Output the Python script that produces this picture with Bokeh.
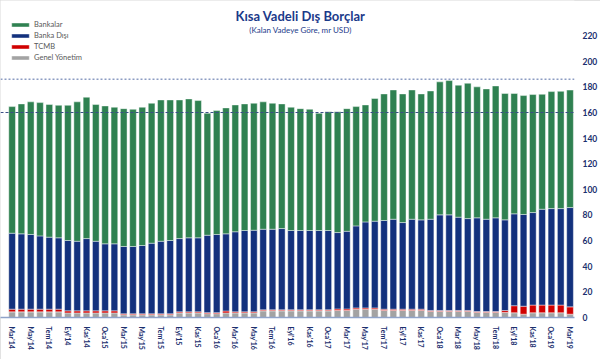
from bokeh.plotting import figure
from bokeh.models import ColumnDataSource, FixedTicker, Range1d, Span, Legend, LegendItem, Label
from bokeh.embed import file_html
from bokeh.resources import INLINE

months = ["Mar'14", "Nis'14", "May'14", "Haz'14", "Tem'14", "Ağu'14", "Eyl'14", "Eki'14", "Kas'14", "Ara'14",
          "Oca'15", "Şub'15", "Mar'15", "Nis'15", "May'15", "Haz'15", "Tem'15", "Ağu'15", "Eyl'15", "Eki'15", "Kas'15", "Ara'15",
          "Oca'16", "Şub'16", "Mar'16", "Nis'16", "May'16", "Haz'16", "Tem'16", "Ağu'16", "Eyl'16", "Eki'16", "Kas'16", "Ara'16",
          "Oca'17", "Şub'17", "Mar'17", "Nis'17", "May'17", "Haz'17", "Tem'17", "Ağu'17", "Eyl'17", "Eki'17", "Kas'17", "Ara'17",
          "Oca'18", "Şub'18", "Mar'18", "Nis'18", "May'18", "Haz'18", "Tem'18", "Ağu'18", "Eyl'18", "Eki'18", "Kas'18", "Ara'18",
          "Oca'19", "Şub'19", "Mar'19"]

genel_yonetim = [4.4, 4.4, 4.4, 4.4, 4.4, 4.4, 3.6, 3.6, 3.6, 3.6, 3.6, 3.6, 2.1, 2.1, 2.1, 2.1, 2.1, 2.1, 3.6, 3.6, 3.6,
                 3.0, 3.0, 3.6, 3.6, 3.6, 3.6, 5.2, 5.2, 5.2, 5.2, 5.2, 5.2, 5.2, 5.2, 5.5, 5.5, 6.5, 6.5, 6.5, 5.5,
                 5.5, 5.5, 5.5, 5.5, 4.7, 4.7, 4.7, 4.7, 4.7, 3.9, 3.9, 3.9, 3.9, 3.7, 2.6, 3.7, 3.7, 3.7, 3.7, 2.6]
tcmb = [2.1, 2.1, 2.1, 2.1, 2.1, 2.1, 1.6, 1.6, 1.6, 1.6, 1.6, 1.6, 0.8, 0.8, 0.8, 0.8, 0.8, 0.8, 0.8, 0.8, 0.8,
        0.8, 0.8, 1.5, 0.8, 0.8, 0.8, 0.8, 0.8, 0.8, 0.8, 0.8, 0.8, 0.8, 0.8, 1.2, 1.2, 1.0, 1.0, 1.0, 1.0,
        1.0, 1.0, 1.0, 1.0, 0.8, 0.8, 0.8, 0.8, 0.8, 0.8, 0.8, 0.8, 1.5, 5.5, 6.2, 6.0, 6.0, 6.0, 6.0, 5.7]
banka_disi = [59.3, 58.8, 58.3, 57.2, 56.2, 55.7, 54.9, 54.3, 56.4, 54.3, 52.3, 52.3, 52.5, 52.5, 53.3, 55.1, 56.6, 57.2, 57.2, 57.8, 57.8,
              60.4, 61.0, 60.2, 62.5, 63.5, 63.7, 62.9, 62.9, 63.4, 61.9, 61.9, 61.9, 61.9, 61.9, 59.6, 60.6, 64.0, 67.1, 67.7, 69.2,
              70.2, 67.6, 70.2, 69.7, 71.2, 74.6, 74.6, 72.8, 71.7, 73.1, 72.0, 73.1, 70.8, 71.7, 71.6, 72.2, 74.8, 75.3, 75.3, 77.5]
bankalar = [98.8, 101.4, 103.5, 104.0, 103.5, 103.4, 105.5, 108.8, 110.3, 106.7, 107.6, 106.6, 107.6, 107.1, 107.9, 109.2, 110.3, 109.7, 108.2, 108.4, 107.1,
            95.2, 96.7, 98.3, 99.0, 98.8, 99.1, 99.4, 98.3, 97.3, 96.2, 95.1, 94.6, 91.5, 92.6, 94.2, 95.7, 93.1, 91.3, 95.7, 98.8,
            100.9, 100.4, 100.9, 98.3, 100.1, 103.8, 104.8, 103.0, 105.6, 102.2, 101.7, 102.9, 98.6, 93.9, 92.8, 92.1, 89.7, 91.3, 91.5, 91.7]

series_keys = ["genel_yonetim", "tcmb", "banka_disi", "bankalar"]
series_names = ["Genel Yönetim", "TCMB", "Banka Dışı", "Bankalar"]
series_colors = ["#A3A3A3", "#D00000", "#13317D", "#2F8151"]

ref_upper = 186
ref_lower = 160
y_ticks = list(range(0, 221, 20))

src = ColumnDataSource(dict(x=list(range(len(months))), genel_yonetim=genel_yonetim, tcmb=tcmb,
                            banka_disi=banka_disi, bankalar=bankalar))

p = figure(width=600, height=359, output_backend="svg", toolbar_location=None,
           y_axis_location="right", x_range=Range1d(-1.25, 60.48), y_range=Range1d(0, 247.4),
           min_border_left=0, min_border_top=0, min_border_bottom=42, min_border_right=24)
p.styles = {"outline": "1px solid #D9D9D9", "outline-offset": "-1px"}

renderers = p.vbar_stack(series_keys, x="x", width=0.72, color=series_colors, source=src,
                         line_color="white", line_alpha=0.55, line_width=0.8)

p.add_layout(Span(location=ref_upper, dimension="width", line_color="#8C9CC2", line_dash="2 2", line_width=1.5))
p.add_layout(Span(location=ref_lower, dimension="width", line_color="#3A4F86", line_dash="3 2", line_width=1.2))

legend = Legend(items=[LegendItem(label=series_names[i], renderers=[renderers[i]]) for i in [3, 2, 1, 0]],
                location=(9, 255), glyph_width=22, glyph_height=5, label_height=9, spacing=2,
                label_text_font_size="7.5px", label_text_color="#595959", label_text_font="Lato",
                background_fill_alpha=0, border_line_color=None, padding=0, margin=0, label_standoff=3)
p.add_layout(legend)

p.add_layout(Label(x=300, y=302, x_units="screen", y_units="screen", text="Kısa Vadeli Dış Borçlar",
                   text_align="center", text_baseline="middle", text_font="Lato", text_font_style="bold",
                   text_font_size="13px", text_color="#1B3A8A"))
p.add_layout(Label(x=300, y=288, x_units="screen", y_units="screen", text="(Kalan Vadeye Göre, mr USD)",
                   text_align="center", text_baseline="middle", text_font="Lato",
                   text_font_size="8px", text_color="#1B3A8A"))

xa = p.xaxis[0]
xa.ticker = FixedTicker(ticks=list(range(0, len(months), 2)))
xa.major_label_overrides = {i: months[i] for i in range(0, len(months), 2)}
xa.major_label_orientation = "vertical"
xa.major_label_text_font = "Lato"
xa.major_label_text_font_style = "bold"
xa.major_label_text_font_size = "7px"
xa.major_label_text_color = "#1B2F6E"
xa.major_tick_line_color = None
xa.minor_tick_line_color = None
xa.axis_line_color = "#8FA3C9"
xa.axis_line_width = 1.5
xa.major_label_standoff = 3

ya = p.yaxis[0]
ya.ticker = FixedTicker(ticks=y_ticks)
ya.major_label_text_font = "Lato"
ya.major_label_text_font_style = "bold"
ya.major_label_text_font_size = "8.5px"
ya.major_label_text_color = "#1B2F6E"
ya.axis_line_color = None
ya.major_tick_line_color = None
ya.minor_tick_line_color = None
ya.major_label_standoff = 2

p.xgrid.grid_line_color = None
p.ygrid.grid_line_color = None
p.outline_line_color = None

open("out.html", "w").write(file_html(p, INLINE))
